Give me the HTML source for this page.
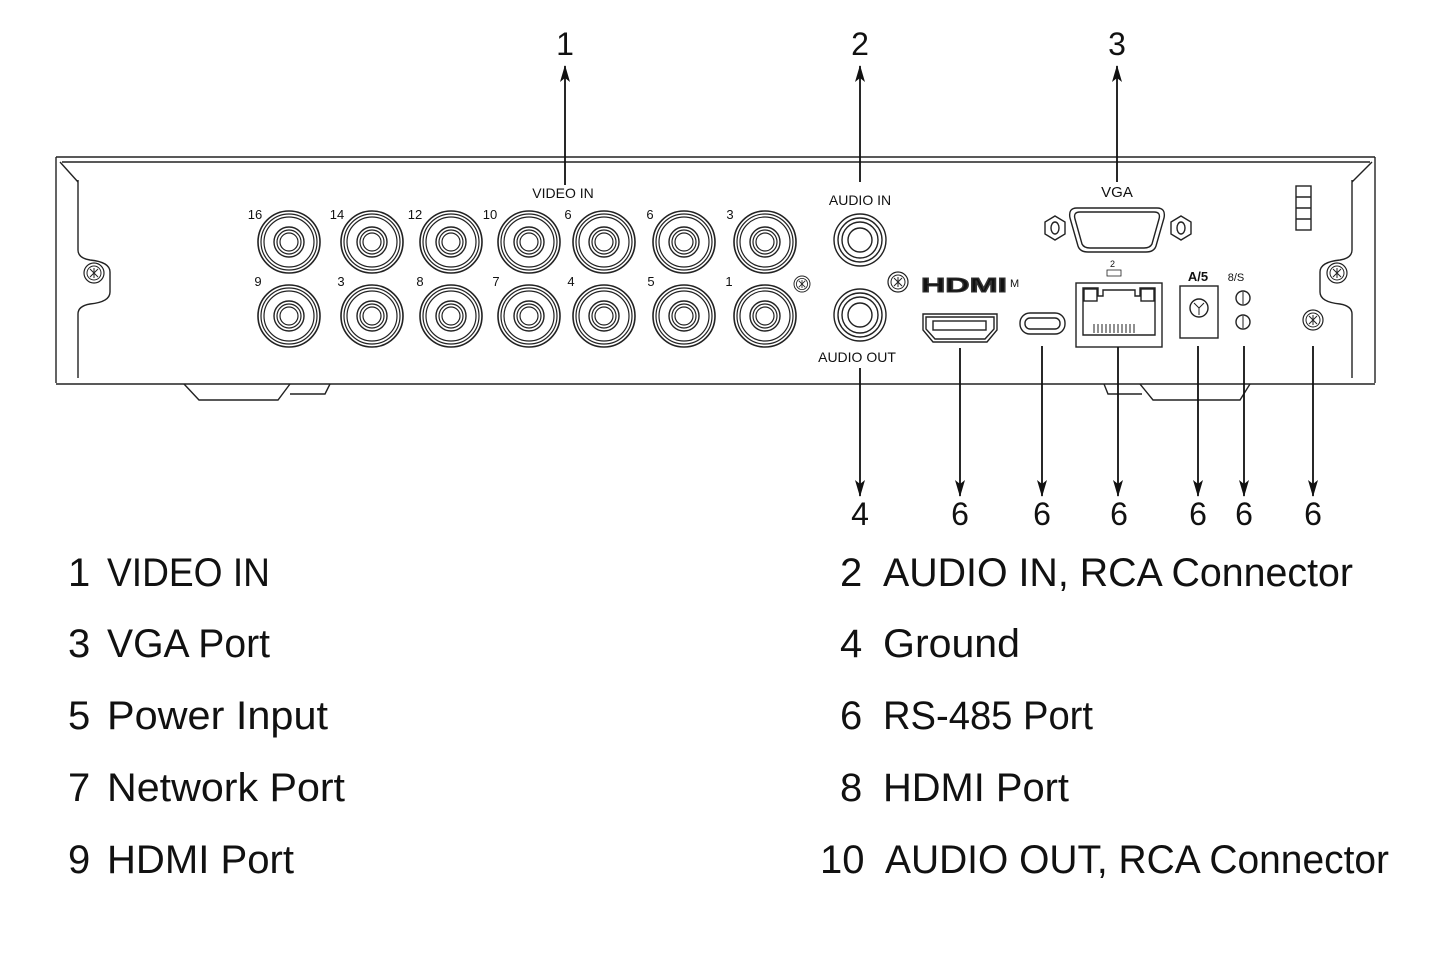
<!DOCTYPE html>
<html><head><meta charset="utf-8"><style>
html,body{margin:0;padding:0;background:#fff;}
svg{display:block}
.t{font-family:"Liberation Sans",sans-serif;fill:#111}
</style></head><body>
<svg width="1445" height="963" viewBox="0 0 1445 963" xmlns="http://www.w3.org/2000/svg">
<defs>
<g id="bnc">
<circle r="31" fill="none" stroke="#222" stroke-width="1.6"/>
<circle r="28" fill="none" stroke="#222" stroke-width="1.2"/>
<circle r="25" fill="none" stroke="#222" stroke-width="1.2"/>
<circle r="15" fill="none" stroke="#222" stroke-width="1.4"/>
<circle r="12" fill="none" stroke="#222" stroke-width="1.2"/>
<circle r="9" fill="none" stroke="#222" stroke-width="1.2"/>
</g>
<g id="screw">
<circle r="10" fill="none" stroke="#222" stroke-width="1.2"/>
<circle r="7" fill="none" stroke="#222" stroke-width="1"/>
<path d="M-4 -4L4 4M4 -4L-4 4M0 -5V5" stroke="#222" stroke-width="1"/>
</g>
<marker id="ah" markerWidth="18" markerHeight="10" refX="16" refY="5" orient="auto" markerUnits="userSpaceOnUse">
<path d="M0 0L17 5L0 10L4 5Z" fill="#111"/>
</marker>
</defs>

<g fill="none" stroke="#222" stroke-width="1.4">
<path d="M56 157H1375M62 162H1370"/>
<path d="M56 157V383M1375 157V383M56 384H1375"/>
<path d="M78 180V250Q78 258 90 260Q110 262 110 272V292Q110 302 90 304Q78 306 78 314V378"/>
<path d="M60 162L78 182"/>
<path d="M1352 180V250Q1352 258 1340 260Q1320 262 1320 272V292Q1320 302 1340 304Q1352 306 1352 314V378"/>
<path d="M1372 162L1352 182"/>
<path d="M184 384L199 400H278L290 384M290 394H325L330 384"/>
<path d="M1104 384L1108 394H1142M1140 384L1153 400H1240L1250 384"/>
<rect x="1296" y="186" width="15" height="44"/>
<path d="M1296 197H1311M1296 208H1311M1296 219H1311"/>
<path d="M1077 208H1157Q1166 208 1164 218L1156 246Q1154 252 1146 252H1088Q1080 252 1078 246L1070 218Q1068 208 1077 208Z"/>
<path d="M1080 212H1154Q1161 212 1159 219L1152 244Q1150 248 1144 248H1090Q1084 248 1082 244L1075 219Q1073 212 1080 212Z"/>
<polygon points="1055,216 1065,222 1065,234 1055,240 1045,234 1045,222"/>
<ellipse cx="1055" cy="228" rx="4" ry="6"/>
<polygon points="1181,216 1191,222 1191,234 1181,240 1171,234 1171,222"/>
<ellipse cx="1181" cy="228" rx="4" ry="6"/>
<path d="M923 314H997V330L987 342H933L923 330Z"/>
<path d="M926 317H994V329L985 339H935L926 329Z"/>
<rect x="933" y="321" width="53" height="9"/>
<rect x="1020" y="313" width="45" height="21" rx="10"/>
<rect x="1025" y="318" width="35" height="11" rx="5"/>
<rect x="1076" y="283" width="86" height="64"/>
<path d="M1083 288H1098V296H1103V290H1135V296H1140V288H1155V335H1083Z"/>
<rect x="1084" y="289" width="13" height="12"/>
<rect x="1141" y="289" width="13" height="12"/>
<path d="M1094 324V333M1098 324V333M1102 324V333M1106 324V333M1110 324V333M1114 324V333M1118 324V333M1122 324V333M1126 324V333M1130 324V333M1134 324V333" stroke-width="1"/>
<rect x="1180" y="286" width="38" height="52"/>
<circle cx="1199" cy="308" r="9"/>
<path d="M1194 303L1199 308L1204 303M1199 308V315" stroke-width="1"/>
<circle cx="1243" cy="298" r="7"/><path d="M1243 292V304" stroke-width="1"/>
<circle cx="1243" cy="322" r="7"/><path d="M1243 316V328" stroke-width="1"/>
<circle cx="860" cy="240" r="26"/><circle cx="860" cy="240" r="22"/><circle cx="860" cy="240" r="18"/><circle cx="860" cy="240" r="12"/>
<circle cx="860" cy="315" r="26"/><circle cx="860" cy="315" r="22"/><circle cx="860" cy="315" r="18"/><circle cx="860" cy="315" r="12"/>
</g>
<text class="t" x="1010" y="287" font-size="11">M</text>
<text class="t" x="921" y="292" font-size="20" font-weight="bold" textLength="86" lengthAdjust="spacingAndGlyphs" fill="#fff" stroke="#333" stroke-width="1">HDMI</text>
<text class="t" x="1110" y="267" font-size="9">2</text>
<rect x="1107" y="270" width="14" height="6" fill="none" stroke="#222" stroke-width="0.8"/>

<g>
<use href="#bnc" x="289" y="242"/><use href="#bnc" x="372" y="242"/><use href="#bnc" x="451" y="242"/><use href="#bnc" x="529" y="242"/><use href="#bnc" x="604" y="242"/><use href="#bnc" x="684" y="242"/><use href="#bnc" x="765" y="242"/>
<use href="#bnc" x="289" y="316"/><use href="#bnc" x="372" y="316"/><use href="#bnc" x="451" y="316"/><use href="#bnc" x="529" y="316"/><use href="#bnc" x="604" y="316"/><use href="#bnc" x="684" y="316"/><use href="#bnc" x="765" y="316"/>
</g>
<use href="#screw" x="94" y="273"/>
<use href="#screw" x="1337" y="273"/>
<use href="#screw" x="1313" y="320"/>
<use href="#screw" x="802" y="284" transform="translate(160.4 56.8) scale(0.8)"/>
<use href="#screw" x="898" y="282"/>

<g class="t" font-size="13" text-anchor="middle">
<text x="255" y="219">16</text><text x="337" y="219">14</text><text x="415" y="219">12</text><text x="490" y="219">10</text><text x="568" y="219">6</text><text x="650" y="219">6</text><text x="730" y="219">3</text>
<text x="258" y="286">9</text><text x="341" y="286">3</text><text x="420" y="286">8</text><text x="496" y="286">7</text><text x="571" y="286">4</text><text x="651" y="286">5</text><text x="729" y="286">1</text>
<text x="563" y="198" font-size="14">VIDEO IN</text>
<text x="860" y="205" font-size="14">AUDIO IN</text>
<text x="857" y="362" font-size="14">AUDIO OUT</text>
<text x="1117" y="197" font-size="15">VGA</text>
<text x="1198" y="281" font-size="13" font-weight="bold">A/5</text>
<text x="1236" y="281" font-size="11">8/S</text>
</g>

<g stroke="#111" stroke-width="1.8" fill="none">
<path d="M565 185V66" marker-end="url(#ah)"/>
<path d="M860 182V66" marker-end="url(#ah)"/>
<path d="M1117 182V66" marker-end="url(#ah)"/>
<path d="M860 368V496" marker-end="url(#ah)"/>
<path d="M960 348V496" marker-end="url(#ah)"/>
<path d="M1042 346V496" marker-end="url(#ah)"/>
<path d="M1118 347V496" marker-end="url(#ah)"/>
<path d="M1198 346V496" marker-end="url(#ah)"/>
<path d="M1244 346V496" marker-end="url(#ah)"/>
<path d="M1313 346V496" marker-end="url(#ah)"/>
</g>
<g class="t" font-size="32" text-anchor="middle">
<text x="565" y="55">1</text><text x="860" y="55">2</text><text x="1117" y="55">3</text>
<text x="860" y="525">4</text><text x="960" y="525">6</text><text x="1042" y="525">6</text><text x="1119" y="525">6</text><text x="1198" y="525">6</text><text x="1244" y="525">6</text><text x="1313" y="525">6</text>
</g>

<g class="t" font-size="40">
<text x="68" y="586">1</text><text x="107" y="586" textLength="163" lengthAdjust="spacingAndGlyphs">VIDEO IN</text>
<text x="68" y="657">3</text><text x="107" y="657" textLength="163" lengthAdjust="spacingAndGlyphs">VGA Port</text>
<text x="68" y="729">5</text><text x="107" y="729" textLength="221" lengthAdjust="spacingAndGlyphs">Power Input</text>
<text x="68" y="801">7</text><text x="107" y="801" textLength="238" lengthAdjust="spacingAndGlyphs">Network Port</text>
<text x="68" y="873">9</text><text x="107" y="873" textLength="187" lengthAdjust="spacingAndGlyphs">HDMI Port</text>
<text x="840" y="586">2</text><text x="883" y="586" textLength="470" lengthAdjust="spacingAndGlyphs">AUDIO IN, RCA Connector</text>
<text x="840" y="657">4</text><text x="883" y="657" textLength="137" lengthAdjust="spacingAndGlyphs">Ground</text>
<text x="840" y="729">6</text><text x="883" y="729" textLength="210" lengthAdjust="spacingAndGlyphs">RS-485 Port</text>
<text x="840" y="801">8</text><text x="883" y="801" textLength="186" lengthAdjust="spacingAndGlyphs">HDMI Port</text>
<text x="820" y="873">10</text><text x="885" y="873" textLength="504" lengthAdjust="spacingAndGlyphs">AUDIO OUT, RCA Connector</text>
</g>
</svg>
</body></html>
